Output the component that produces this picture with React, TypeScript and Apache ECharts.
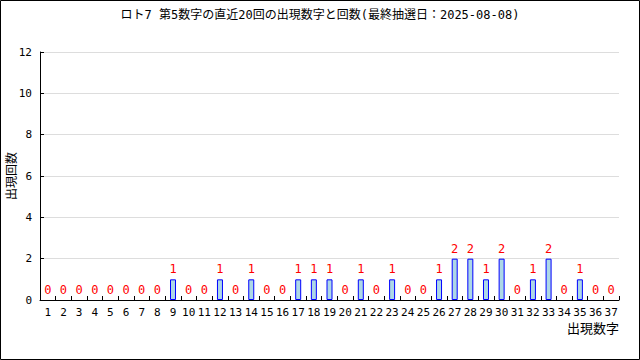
import React, { useEffect, useRef } from "react";
import * as echarts from "echarts";

const categories: string[] = Array.from({ length: 37 }, (_, i) => String(i + 1));
const counts: number[] = [
  0, 0, 0, 0, 0, 0, 0, 0, 1, 0,
  0, 1, 0, 1, 0, 0, 1, 1, 1, 0,
  1, 0, 1, 0, 0, 1, 2, 2, 1, 2,
  0, 1, 2, 0, 1, 0, 0,
];
const titleText = "ロト7 第5数字の直近20回の出現数字と回数(最終抽選日：2025-08-08)";
const yName = "出現回数";
const xName = "出現数字";

const FONT = "'DejaVu Sans Mono', 'Noto Sans CJK JP', monospace";

export default function App() {
  const ref = useRef<HTMLDivElement>(null);
  useEffect(() => {
    if (!ref.current) return;
    const chart = echarts.init(ref.current, null, { renderer: "svg" });
    chart.setOption({
      animation: false,
      backgroundColor: "#ffffff",
      textStyle: { fontFamily: FONT },
      title: {
        text: titleText,
        left: "center",
        top: 4,
        textStyle: { fontSize: 12, fontWeight: "normal", color: "#000", fontFamily: FONT },
      },
      graphic: [
        {
          type: "rect",
          shape: { x: 0.5, y: 0.5, width: 639, height: 359 },
          style: { fill: "none", stroke: "#000", lineWidth: 1 },
          silent: true,
        },
        {
          type: "text",
          x: 12,
          y: 176,
          rotation: Math.PI / 2,
          style: {
            text: yName,
            fontSize: 12,
            fill: "#000",
            fontFamily: FONT,
            align: "center",
            verticalAlign: "middle",
          },
        },
        {
          type: "text",
          x: 619,
          y: 328,
          style: {
            text: xName,
            fontSize: 13,
            fill: "#000",
            fontFamily: FONT,
            align: "right",
            verticalAlign: "middle",
          },
        },
      ],
      grid: { left: 40, right: 21, top: 52, bottom: 60, containLabel: false, outerBoundsMode: "none" },
      xAxis: {
        type: "category",
        data: categories,
        boundaryGap: true,
        axisLine: { lineStyle: { color: "#000", width: 1 } },
        axisTick: { show: true, inside: true, length: 4, alignWithLabel: false, lineStyle: { color: "#000" } },
        axisLabel: { color: "#000", fontSize: 11, margin: 7, interval: 0, fontFamily: FONT },
        splitLine: { show: false },
      },
      yAxis: {
        type: "value",
        min: 0,
        max: 12,
        interval: 2,
        axisLine: { show: true, lineStyle: { color: "#000", width: 1 } },
        axisTick: { show: true, inside: true, length: 4, lineStyle: { color: "#000" } },
        axisLabel: { color: "#000", fontSize: 11, margin: 8, fontFamily: FONT },
        splitLine: { show: true, lineStyle: { color: "#dddddd", width: 1 } },
      },
      series: [
        {
          type: "bar",
          data: counts.map((v) =>
            v === 0
              ? { value: v, itemStyle: { borderWidth: 0, color: "rgba(0,0,0,0)", borderColor: "rgba(0,0,0,0)" } }
              : v
          ),
          barWidth: 6,
          itemStyle: { color: "#add8e6", borderColor: "#0000ff", borderWidth: 1 },
          label: {
            show: true,
            position: "top",
            distance: 4,
            color: "#ff0000",
            fontSize: 12,
            fontFamily: FONT,
          },
        },
      ],
    });
    return () => chart.dispose();
  }, []);
  return (
    <div
      ref={ref}
      style={{ position: "absolute", left: 0, top: 0, width: 640, height: 360 }}
    />
  );
}
